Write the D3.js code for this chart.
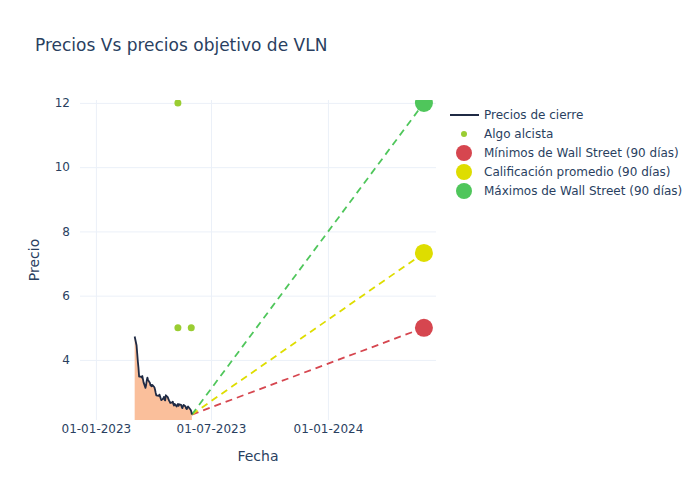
<!DOCTYPE html>
<html>
<head>
<meta charset="utf-8">
<script src="https://cdn.jsdelivr.net/npm/d3@7"></script>
<style>
  body { margin: 0; background: #fff; }
  text { font-family: "DejaVu Sans", sans-serif; }
</style>
</head>
<body>
<svg id="chart" width="700" height="500"></svg>
<script>
// ---------- DATA ----------
const priceDates = [
  "2023-03-03","2023-03-06","2023-03-07","2023-03-08","2023-03-09","2023-03-10",
  "2023-03-13","2023-03-14","2023-03-15","2023-03-16","2023-03-17",
  "2023-03-20","2023-03-21","2023-03-22","2023-03-23","2023-03-24",
  "2023-03-27","2023-03-28","2023-03-29","2023-03-30","2023-03-31",
  "2023-04-03","2023-04-04","2023-04-05","2023-04-06",
  "2023-04-10","2023-04-11","2023-04-12","2023-04-13","2023-04-14",
  "2023-04-17","2023-04-18","2023-04-19","2023-04-20","2023-04-21",
  "2023-04-24","2023-04-25","2023-04-26","2023-04-27","2023-04-28",
  "2023-05-01","2023-05-02","2023-05-03","2023-05-04","2023-05-05",
  "2023-05-08","2023-05-09","2023-05-10","2023-05-11","2023-05-12",
  "2023-05-15","2023-05-16","2023-05-17","2023-05-18","2023-05-19",
  "2023-05-22","2023-05-23","2023-05-24","2023-05-25","2023-05-26",
  "2023-05-30","2023-05-31","2023-06-01"
];
const closePrices = [
  4.73, 4.45, 4.20, 3.95, 3.75, 3.48,
  3.48, 3.45, 3.50, 3.40, 3.30,
  3.13, 3.22, 3.36, 3.45, 3.38,
  3.28, 3.20, 3.22, 3.18, 3.22,
  3.15, 3.08, 2.98, 2.90,
  2.88, 2.92, 2.86, 2.80, 2.75,
  2.80, 2.85, 2.77, 2.74, 2.90,
  2.84, 2.79, 2.74, 2.70, 2.66,
  2.68, 2.70, 2.62, 2.58, 2.63,
  2.55, 2.60, 2.63, 2.57, 2.62,
  2.60, 2.54, 2.50, 2.56, 2.60,
  2.55, 2.49, 2.47, 2.52, 2.55,
  2.45, 2.40, 2.30
];
const bullDates = ["2023-05-10", "2023-05-10", "2023-05-31"];
const bullValues = [12, 5, 5];

const targetDate = "2024-05-31";
const targetNames = ["Mínimos de Wall Street (90 días)", "Calificación promedio (90 días)", "Máximos de Wall Street (90 días)"];
const targetValues = [5.0, 7.33, 12.0];
const targetColors = ["#d6464f", "#dedd00", "#4fc65b"];

const xTickDates = ["2023-01-01", "2023-07-01", "2024-01-01"];
const xTickLabels = ["01-01-2023", "01-07-2023", "01-01-2024"];
const yTicks = [4, 6, 8, 10, 12];

const titleText = "Precios Vs precios objetivo de VLN";
const xTitle = "Fecha";
const yTitle = "Precio";

// ---------- LAYOUT ----------
const parse = d3.timeParse("%Y-%m-%d");
const svg = d3.select("#chart");
const W = 700, H = 500;
const m = { l: 80, r: 264, t: 100, b: 80 };
const pw = W - m.l - m.r, ph = H - m.t - m.b;
const textColor = "#2a3f5f";
const gridColor = "#ebf0f8";

const x = d3.scaleTime()
  .domain([parse("2022-12-07"), parse("2024-06-19")])
  .range([m.l, m.l + pw]);
const y = d3.scaleLinear()
  .domain([2.13, 12.09])
  .range([m.t + ph, m.t]);

svg.append("defs").append("clipPath").attr("id", "plotclip")
  .append("rect").attr("x", m.l).attr("y", m.t).attr("width", pw).attr("height", ph);

// grid
const xAxis = d3.axisBottom(x)
  .tickValues(xTickDates.map(parse))
  .tickFormat((d, i) => xTickLabels[i])
  .tickSize(-ph).tickPadding(4);
const gx = svg.append("g").attr("transform", `translate(0,${m.t + ph})`).call(xAxis);
gx.select(".domain").remove();
gx.selectAll(".tick line").attr("stroke", gridColor);
gx.selectAll(".tick text").attr("fill", textColor).attr("font-size", 12).attr("dy", "0.71em");

const yAxis = d3.axisLeft(y).tickValues(yTicks).tickSize(-pw).tickPadding(10);
const gy = svg.append("g").attr("transform", `translate(${m.l},0)`).call(yAxis);
gy.select(".domain").remove();
gy.selectAll(".tick line").attr("stroke", gridColor);
gy.selectAll(".tick text").attr("fill", textColor).attr("font-size", 12);

const plot = svg.append("g").attr("clip-path", "url(#plotclip)");

const priceData = priceDates.map((d, i) => ({ date: parse(d), value: closePrices[i] }));

// area
plot.append("path").datum(priceData)
  .attr("fill", "#fabf9b")
  .attr("d", d3.area().x(d => x(d.date)).y0(y(y.domain()[0]) + 5).y1(d => y(d.value)));

// dashed target lines
const last = priceData[priceData.length - 1];
targetValues.forEach((v, i) => {
  plot.append("line")
    .attr("x1", x(last.date)).attr("y1", y(last.value))
    .attr("x2", x(parse(targetDate))).attr("y2", y(v))
    .attr("stroke", targetColors[i]).attr("stroke-width", 1.8)
    .attr("stroke-dasharray", "7,5");
});

// price line
plot.append("path").datum(priceData)
  .attr("fill", "none").attr("stroke", "#1f2a44").attr("stroke-width", 1.8)
  .attr("stroke-linejoin", "round")
  .attr("d", d3.line().x(d => x(d.date)).y(d => y(d.value)));

// bull points
plot.selectAll("circle.bull").data(bullDates.map((d, i) => ({ date: parse(d), value: bullValues[i] })))
  .enter().append("circle").attr("class", "bull")
  .attr("cx", d => x(d.date)).attr("cy", d => y(d.value)).attr("r", 3.5)
  .attr("fill", "#9acd32");

// target markers
targetValues.forEach((v, i) => {
  plot.append("circle")
    .attr("cx", x(parse(targetDate))).attr("cy", y(v)).attr("r", 9)
    .attr("fill", targetColors[i]);
});

// title
svg.append("text").attr("x", 35).attr("y", 51).attr("font-size", 17)
  .attr("fill", textColor).text(titleText);

// axis titles
svg.append("text").attr("x", m.l + pw / 2).attr("y", 461).attr("text-anchor", "middle")
  .attr("font-size", 14).attr("fill", textColor).text(xTitle);
svg.append("text").attr("transform", `translate(39,${m.t + ph / 2}) rotate(-90)`)
  .attr("text-anchor", "middle").attr("font-size", 14).attr("fill", textColor).text(yTitle);

// legend
const lg = svg.append("g").attr("transform", "translate(450,115)");
const legendItems = [
  { name: "Precios de cierre", type: "line", color: "#1f2a44" },
  { name: "Algo alcista", type: "dot", color: "#9acd32" },
  ...targetNames.map((n, i) => ({ name: n, type: "big", color: targetColors[i] }))
];
legendItems.forEach((it, i) => {
  const g = lg.append("g").attr("transform", `translate(0,${i * 19})`);
  if (it.type === "line") {
    g.append("line").attr("x1", 0).attr("x2", 29).attr("y1", 0).attr("y2", 0)
      .attr("stroke", it.color).attr("stroke-width", 2);
  } else {
    g.append("circle").attr("cx", 14).attr("cy", 0).attr("r", it.type === "dot" ? 3 : 8)
      .attr("fill", it.color);
  }
  g.append("text").attr("x", 34).attr("y", 0).attr("dy", "0.35em")
    .attr("font-size", 12).attr("fill", textColor).text(it.name);
});
</script>
</body>
</html>
